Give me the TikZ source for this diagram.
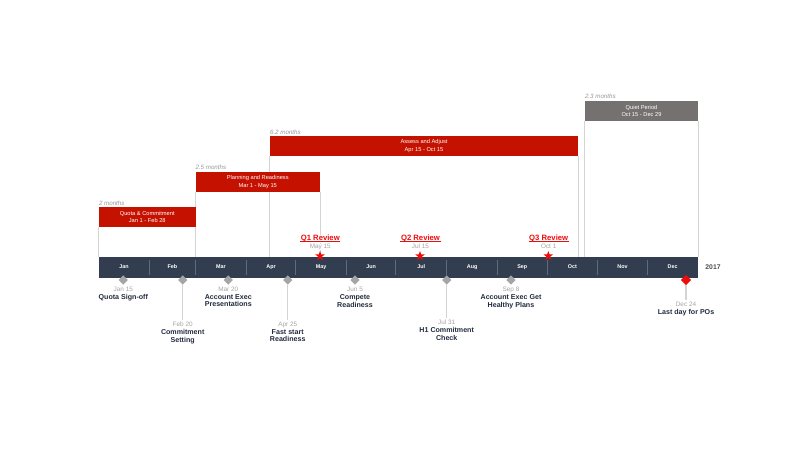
\documentclass[tikz,border=0pt]{standalone}
\usepackage{fontspec}
\setmainfont{Liberation Sans}
\usetikzlibrary{shapes.geometric,positioning,backgrounds}

\definecolor{barred}{RGB}{197,17,0}
\definecolor{quietgray}{RGB}{118,113,113}
\definecolor{navy}{RGB}{50,62,80}
\definecolor{inkblue}{RGB}{33,43,62}
\definecolor{dategray}{RGB}{165,165,165}
\definecolor{spangray}{RGB}{150,150,150}
\definecolor{framegray}{RGB}{212,212,212}
\definecolor{sepblue}{RGB}{95,106,122}
\definecolor{revred}{RGB}{235,12,12}

\tikzset{
  taskbar/.style={fill=barred, text=white, minimum height=20pt, inner sep=0pt, align=center, font=\fontsize{5.7}{7.4}\selectfont},
  span/.style={text=spangray, font=\itshape\fontsize{6.2}{7}\selectfont, inner sep=0pt, anchor=base west},
  frame/.style={draw=framegray, line width=0.9pt},
  timeline/.style={fill=navy, minimum width=599.5pt, minimum height=21pt, inner sep=0pt},
  month/.style={text=white, font=\bfseries\fontsize{5.4}{6}\selectfont, inner sep=0pt, anchor=base},
  sep/.style={draw=sepblue, line width=0.7pt},
  mile/.style={diamond, fill=dategray, minimum size=9.5pt, inner sep=0pt},
  stem/.style={draw=framegray, line width=1.2pt},
  date/.style={text=dategray, font=\fontsize{6.4}{7}\selectfont, inner sep=1.5pt, anchor=base},
  title/.style={text=inkblue, font=\bfseries\fontsize{7.1}{7.7}\selectfont, align=center, inner sep=0pt, anchor=north},
  review/.style={text=revred, font=\bfseries\fontsize{7.7}{8}\selectfont, inner sep=0.5pt, anchor=base, fill=white},
  revline/.style={draw=revred, line width=0.6pt},
  revstar/.style={star, star points=5, star point ratio=2.4, fill=revred, minimum size=10pt, inner sep=0pt},
}

\begin{document}
\begin{tikzpicture}[x=1pt,y=-1pt]
  \useasboundingbox (0,0) rectangle (800,450);

  % Task bars
  \node[taskbar, minimum width=96.5pt] (quota) at (147.25,217) {Quota \& Commitment\\Jan 1 - Feb 28};
  \node[taskbar, minimum width=124.5pt] (plan) at (257.75,182) {Planning and Readiness\\Mar 1 - May 15};
  \node[taskbar, minimum width=308pt] (assess) at (424,146) {Assess and Adjust\\Apr 15 - Oct 15};
  \node[taskbar, fill=quietgray, minimum width=113pt] (quiet) at (641.5,110.7) {Quiet Period\\Oct 15 - Dec 29};

  % Durations
  \node[span] (quotalen) at ([yshift=1.8pt]quota.north west) {2 months};
  \node[span] (planlen) at ([yshift=2pt]plan.north west) {2.5 months};
  \node[span] (assesslen) at ([yshift=1.3pt]assess.north west) {6.2 months};
  \node[span] (quietlen) at ([yshift=1.8pt]quiet.north west) {2.3 months};

  % Timeline
  \node[timeline] (tl) at (398.25,267.5) {};
  \node[text=black!70, font=\bfseries\fontsize{6.8}{7}\selectfont, inner sep=0pt, anchor=base] (year) at (713,269.4) {2017};

  % Frames under the bars
  \begin{scope}[on background layer]
    \draw[frame] (quota.south west) -- (quota.south west |- tl.north);
    \draw[frame] (quota.south east) -- (quota.south east |- tl.north);
    \draw[frame] (plan.south west) -- (plan.south west |- tl.north);
    \draw[frame] (plan.south east) -- (plan.south east |- tl.north);
    \draw[frame] (assess.south west) -- (assess.south west |- tl.north);
    \draw[frame] (assess.south east) -- (assess.south east |- tl.north);
    \draw[frame] (quiet.south west) -- (quiet.south west |- tl.north);
    \draw[frame] (quiet.south east) -- (quiet.south east |- tl.north);
  \end{scope}

  % Months
  \node[month] (jan) at (124,268.6) {Jan};
  \node[month] (feb) at (172.4,268.6) {Feb};
  \node[month] (mar) at (220.9,268.6) {Mar};
  \node[month] (apr) at (271,268.6) {Apr};
  \node[month] (may) at (321,268.6) {May};
  \node[month] (jun) at (371.2,268.6) {Jun};
  \node[month] (jul) at (421.3,268.6) {Jul};
  \node[month] (aug) at (472.2,268.6) {Aug};
  \node[month] (sep) at (522.3,268.6) {Sep};
  \node[month] (oct) at (572.4,268.6) {Oct};
  \node[month] (nov) at (622.5,268.6) {Nov};
  \node[month] (dec) at (672.6,268.6) {Dec};
  \draw[sep] (149.4,260) -- (149.4,275) (195.4,260) -- (195.4,275)
    (246.3,260) -- (246.3,275) (295.6,260) -- (295.6,275)
    (346.5,260) -- (346.5,275) (395.8,260) -- (395.8,275)
    (446.7,260) -- (446.7,275) (497.6,260) -- (497.6,275)
    (546.9,260) -- (546.9,275) (597.8,260) -- (597.8,275)
    (647.1,260) -- (647.1,275);

  % Reviews
  \node[review] (q1) at (320.3,240.6) {Q1 Review};
  \draw[revline] ([yshift=-1pt]q1.base west) -- ([yshift=-1pt]q1.base east);
  \node[date, fill=white, inner sep=0pt] (q1d) at (320.3,248.3) {May 15};
  \node[revstar] (q1s) at (320,256) {};
  \node[review] (q2) at (420.5,240.6) {Q2 Review};
  \draw[revline] ([yshift=-1pt]q2.base west) -- ([yshift=-1pt]q2.base east);
  \node[date, fill=white, inner sep=0pt] (q2d) at (420.5,248.3) {Jul 15};
  \node[revstar] (q2s) at (420,256) {};
  \node[review] (q3) at (548.7,240.6) {Q3 Review};
  \draw[revline] ([yshift=-1pt]q3.base west) -- ([yshift=-1pt]q3.base east);
  \node[date, fill=white, inner sep=0pt] (q3d) at (548.7,248.3) {Oct 1};
  \node[revstar] (q3s) at (548.3,256) {};

  % Milestones
  \node[mile] (m1) at (123.3,280) {};
  \node[date] (m1d) at (123.3,291.3) {Jan 15};
  \node[title] (m1t) at (123.3,294.2) {Quota Sign-off};

  \node[mile] (m2) at (182.7,280) {};
  \node[date] (m2d) at (182.7,326.3) {Feb 20};
  \node[title] (m2t) at (182.7,329.2) {Commitment\\Setting};
  \draw[stem] (m2.south) -- (m2d.north);

  \node[mile] (m3) at (228.3,280) {};
  \node[date] (m3d) at (228.3,291.3) {Mar 20};
  \node[title] (m3t) at (228.3,294.2) {Account Exec\\Presentations};

  \node[mile] (m4) at (287.7,280) {};
  \node[date] (m4d) at (287.7,326.3) {Apr 25};
  \node[title] (m4t) at (287.7,329.2) {Fast start\\Readiness};
  \draw[stem] (m4.south) -- (m4d.north);

  \node[mile] (m5) at (355,280) {};
  \node[date] (m5d) at (355,291.3) {Jun 5};
  \node[title] (m5t) at (355,294.2) {Compete\\Readiness};

  \node[mile] (m6) at (446.7,280) {};
  \node[date] (m6d) at (446.7,324.6) {Jul 31};
  \node[title] (m6t) at (446.7,327.5) {H1 Commitment\\Check};
  \draw[stem] (m6.south) -- (m6d.north);

  \node[mile] (m7) at (511,280) {};
  \node[date] (m7d) at (511,291.3) {Sep 8};
  \node[title] (m7t) at (511,294.2) {Account Exec Get\\Healthy Plans};

  \node[mile, fill=revred, minimum size=10.5pt] (m8) at (686,280) {};
  \node[date] (m8d) at (686,306.3) {Dec 24};
  \node[title] (m8t) at (686,309.2) {Last day for POs};
  \draw[stem] (m8.south) -- (m8d.north);
\end{tikzpicture}
\end{document}
